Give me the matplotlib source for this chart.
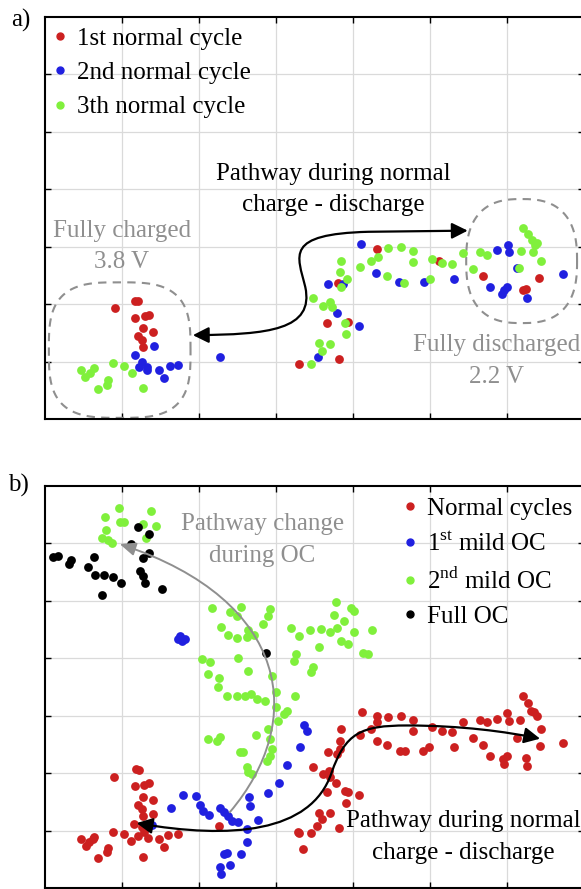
import numpy as np
import matplotlib.pyplot as plt
from matplotlib.path import Path
from matplotlib.patches import FancyArrowPatch
from matplotlib.lines import Line2D

plt.rcParams['font.family'] = ['Liberation Serif', 'DejaVu Serif']
plt.rcParams['mathtext.fontset'] = 'custom'
plt.rcParams['mathtext.rm'] = 'Liberation Serif'

# ---- panel a) three normal cycles ----
a_red_x = [0.91, 1.17, 1.21, 1.17, 1.30, 1.35, 1.27, 1.40, 1.21, 1.26, 1.27,
           3.30, 3.82, 3.66, 3.94, 3.81, 4.31, 5.12, 5.69, 6.25, 6.21, 6.42]
a_red_y = [1.93, 2.06, 2.06, 1.76, 1.79, 1.81, 1.59, 1.52, 1.45, 1.38, 1.25,
           0.96, 1.05, 1.67, 1.69, 2.37, 2.96, 2.75, 2.49, 2.26, 2.25, 2.46]

a_blue_x = [1.42, 1.17, 1.26, 1.22, 1.32, 1.32, 1.48, 1.62, 1.73, 1.55, 2.27,
            3.55, 3.79, 4.08, 3.68, 3.87, 4.10, 4.30, 4.60, 4.92, 5.31, 5.87,
            6.01, 6.03, 6.13, 5.78, 5.94, 6.00, 5.96, 6.26, 6.73]
a_blue_y = [1.27, 1.11, 0.99, 0.91, 0.91, 0.85, 0.85, 0.92, 0.94, 0.71, 1.08,
            1.08, 1.85, 1.62, 2.35, 2.35, 3.05, 2.54, 2.39, 2.39, 2.44, 2.94,
            3.03, 2.91, 2.63, 2.30, 2.18, 2.30, 2.25, 2.11, 2.53]

a_green_x = [0.47, 0.58, 0.64, 0.52, 0.88, 1.03, 1.13, 0.82, 0.81, 0.69, 1.27,
             3.45, 3.56, 3.60, 3.70, 3.91, 3.90, 3.48, 3.61, 3.70, 3.73, 3.84,
             3.92, 3.83, 3.84, 4.09, 4.23, 4.32, 4.45, 4.62, 4.78, 4.78, 4.44,
             4.66, 5.00, 5.03, 5.16, 5.29, 5.43, 5.56, 5.65, 5.74, 6.18, 6.21,
             6.27, 6.32, 6.36, 6.39, 6.34, 6.44, 6.16]
a_green_y = [0.85, 0.80, 0.89, 0.73, 0.98, 0.92, 0.80, 0.68, 0.59, 0.52, 0.54,
             0.96, 1.32, 1.18, 1.31, 1.48, 1.67, 2.11, 1.97, 2.04, 1.95, 2.30,
             2.44, 2.56, 2.75, 2.65, 2.75, 2.82, 2.98, 3.00, 2.93, 2.74, 2.49,
             2.37, 2.44, 2.79, 2.72, 2.70, 2.89, 2.61, 2.91, 2.86, 2.93, 3.33,
             3.22, 3.12, 3.03, 3.07, 2.91, 2.75, 2.63]

# ---- panel b) normal cycles and overcharge (OC) ----
b_normal_x = [1.18, 1.22, 0.90, 1.17, 1.29, 1.35, 1.27, 1.40, 1.21, 1.26, 1.27,
              1.40, 1.16, 1.26, 1.29, 1.34, 1.21, 0.88, 1.03, 1.12, 1.48, 1.60,
              1.73, 1.55, 0.47, 0.53, 0.62, 0.64, 0.57, 0.82, 0.81, 0.69, 1.27,
              2.26, 3.29, 4.12, 4.31, 4.31, 4.45, 4.62, 4.78, 4.78, 4.23, 3.84,
              3.83, 4.09, 4.31, 4.44, 4.61, 4.68, 4.91, 4.99, 5.03, 5.16, 5.29,
              5.43, 5.56, 5.31, 5.65, 5.74, 5.69, 5.78, 5.87, 6.00, 6.03, 6.17,
              6.13, 5.95, 5.96, 6.00, 6.25, 6.26, 6.21, 6.27, 6.31, 6.35, 6.39,
              6.44, 6.43, 6.73, 3.68, 3.79, 3.83, 3.48, 3.61, 3.69, 3.70, 3.78,
              3.66, 3.90, 3.94, 4.08, 3.91, 3.56, 3.60, 3.70, 3.53, 3.82, 3.30,
              3.45, 3.35]
b_normal_y = [2.07, 2.06, 1.93, 1.78, 1.79, 1.83, 1.59, 1.53, 1.45, 1.38, 1.25,
              1.29, 1.11, 1.06, 0.98, 0.87, 0.91, 0.98, 0.94, 0.82, 0.85, 0.92,
              0.94, 0.71, 0.85, 0.73, 0.85, 0.89, 0.80, 0.70, 0.63, 0.52, 0.54,
              1.08, 0.98, 3.07, 3.00, 2.89, 2.98, 3.00, 2.93, 2.74, 2.77, 2.77,
              2.56, 2.67, 2.56, 2.49, 2.39, 2.39, 2.39, 2.46, 2.80, 2.74, 2.72,
              2.89, 2.61, 2.46, 2.93, 2.89, 2.49, 2.30, 2.94, 3.05, 2.91, 2.93,
              2.61, 2.25, 2.16, 2.30, 2.26, 2.13, 3.34, 3.22, 3.08, 3.07, 3.00,
              2.77, 2.47, 2.53, 2.37, 2.33, 2.42, 2.11, 1.99, 2.04, 1.93, 1.83,
              1.67, 1.69, 1.67, 1.62, 1.48, 1.31, 1.20, 1.31, 1.08, 1.05, 0.96,
              0.96, 0.68]

b_oc1_x = [1.75, 1.82, 1.78, 1.73, 1.79, 1.96, 1.64, 2.01, 2.05, 2.13, 2.27,
           2.32, 2.38, 2.43, 2.51, 2.62, 2.62, 2.65, 2.66, 2.77, 2.90, 3.04,
           3.14, 3.31, 1.39, 2.32, 2.36, 2.55, 2.40, 2.27, 2.29, 3.36, 3.40]
b_oc1_y = [4.39, 4.34, 4.30, 4.34, 1.62, 1.60, 1.39, 1.45, 1.34, 1.27, 1.39,
           1.32, 1.25, 1.17, 1.15, 1.03, 0.80, 1.59, 1.43, 1.18, 1.66, 1.83,
           2.14, 2.46, 1.10, 0.59, 0.61, 0.59, 0.40, 0.37, 0.24, 2.84, 2.74]

b_oc2_x = [0.78, 0.96, 0.97, 1.03, 1.38, 1.27, 1.44, 0.79, 0.74, 0.82, 0.87,
           1.31, 2.17, 2.55, 2.40, 2.49, 2.92, 2.90, 2.83, 2.29, 2.38, 2.49,
           2.62, 2.64, 2.71, 2.04, 2.14, 2.51, 2.64, 2.95, 3.78, 3.97, 4.01,
           3.75, 3.88, 3.19, 3.30, 3.44, 3.58, 3.70, 3.79, 4.01, 4.25, 3.84,
           3.94, 3.56, 3.26, 3.23, 4.13, 4.19, 3.48, 3.45, 2.12, 2.26, 2.25,
           2.36, 2.49, 2.60, 2.68, 2.75, 2.86, 3.00, 3.25, 3.14, 3.10, 3.00,
           3.03, 2.12, 2.27, 2.23, 2.74, 2.90, 2.92, 2.95, 2.92, 2.53, 2.57,
           2.88, 2.62, 2.64, 2.69]
b_oc2_y = [6.46, 6.62, 6.38, 6.38, 6.57, 6.34, 6.31, 6.24, 6.10, 6.06, 6.01,
           6.10, 4.88, 4.90, 4.81, 4.74, 4.86, 4.74, 4.60, 4.55, 4.41, 4.36,
           4.37, 4.49, 4.41, 3.99, 3.94, 4.01, 3.78, 3.69, 4.98, 4.88, 4.83,
           4.76, 4.65, 4.53, 4.39, 4.49, 4.51, 4.46, 4.53, 4.46, 4.49, 4.30,
           4.25, 4.20, 4.08, 3.95, 4.09, 4.08, 3.85, 3.76, 3.73, 3.66, 3.50,
           3.34, 3.34, 3.34, 3.38, 3.29, 3.26, 3.41, 3.34, 3.08, 3.03, 3.15,
           2.91, 2.60, 2.63, 2.56, 2.67, 2.77, 2.60, 2.42, 2.30, 2.37, 2.37,
           2.21, 2.11, 2.02, 1.99]

b_full_x = [1.21, 1.35, 1.12, 1.35, 1.27, 0.10, 0.17, 0.34, 0.31, 0.64, 0.56,
            0.65, 0.77, 0.88, 0.99, 1.23, 1.27, 1.30, 0.74, 1.52, 2.87]
b_full_y = [6.29, 6.17, 5.99, 5.84, 5.75, 5.77, 5.78, 5.71, 5.64, 5.77, 5.59,
            5.45, 5.45, 5.42, 5.31, 5.52, 5.44, 5.31, 5.10, 5.21, 4.09]

a_labels = ['1st normal cycle', '2nd normal cycle', '3th normal cycle']
b_labels = ['Normal cycles', r'1$^{\mathrm{st}}$ mild OC',
            r'2$^{\mathrm{nd}}$ mild OC', 'Full OC']

red = '#cc2020'
blue = '#2020e0'
green = '#80f03c'
black = '#000000'
gray = '#8f8f8f'
FS = 18
DOT = 40
HEAD = '<|-|>,head_length=0.6,head_width=0.3'


def setup(ax):
    ax.set_xlim(0, 7)
    ax.set_ylim(0, 7)
    ax.set_xticks(range(1, 7))
    ax.set_yticks(range(1, 7))
    ax.tick_params(direction='in', length=4, width=1, top=True, right=True,
                   labelbottom=False, labelleft=False)
    ax.grid(True, color='#dadada', lw=0.9)
    ax.set_axisbelow(True)
    for s in ax.spines.values():
        s.set_linewidth(1.5)


def blob(ax, cx, cy, rx, ry, n):
    t = np.linspace(0, 2 * np.pi, 300)
    c, s = np.cos(t), np.sin(t)
    x = cx + rx * np.sign(c) * np.abs(c) ** (2 / n)
    y = cy + ry * np.sign(s) * np.abs(s) ** (2 / n)
    ax.plot(x, y, ls=(0, (4, 3)), color=gray, lw=1.5, zorder=1)


def curved_arrow(ax, verts, codes, style, color, lw=1.6):
    arr = FancyArrowPatch(path=Path(verts, codes), arrowstyle=style,
                          mutation_scale=16, color=color, lw=lw, zorder=5)
    ax.add_patch(arr)


def dots(colors):
    return [Line2D([], [], ls='', marker='o', color=c, markersize=5)
            for c in colors]


def add_legend(ax, colors, labels, x, y):
    ax.legend(dots(colors), labels, loc='upper left', bbox_to_anchor=(x, y),
              frameon=False, fontsize=FS, handlelength=0.4,
              handletextpad=0.48, labelspacing=0.47, borderpad=0.25,
              borderaxespad=0.0)


fig = plt.figure(figsize=(5.81, 8.89), dpi=100)
ax1 = fig.add_axes([45 / 581, 1 - 419 / 889, 539 / 581, 402 / 889])
ax2 = fig.add_axes([45 / 581, 1 / 889, 539 / 581, 402 / 889])

# ----- a) -----
setup(ax1)
ax1.scatter(a_red_x, a_red_y, s=DOT, color=red, lw=0, zorder=3)
ax1.scatter(a_blue_x, a_blue_y, s=DOT, color=blue, lw=0, zorder=3)
ax1.scatter(a_green_x, a_green_y, s=DOT, color=green, lw=0, zorder=3)
blob(ax1, 0.97, 1.20, 0.92, 1.18, 3.2)
blob(ax1, 6.19, 2.75, 0.72, 1.08, 2.6)

M, C, L = Path.MOVETO, Path.CURVE4, Path.LINETO
curved_arrow(ax1,
             [(1.92, 1.46), (2.9, 1.47), (3.5, 1.55), (3.38, 2.3),
              (3.28, 2.85), (3.1, 3.22), (4.2, 3.26), (5.49, 3.28)],
             [M, C, C, C, C, C, C, L], HEAD, black)

ax1.text(3.75, 4.0, 'Pathway during normal\ncharge - discharge', fontsize=FS,
         ha='center', va='center', linespacing=1.55)
ax1.text(1.0, 3.0, 'Fully charged\n3.8 V', fontsize=FS, color=gray,
         ha='center', va='center', linespacing=1.55)
ax1.text(5.86, 1.01, 'Fully discharged\n2.2 V', fontsize=FS, color=gray,
         ha='center', va='center', linespacing=1.55)
add_legend(ax1, [red, blue, green], a_labels, 0.0074, 0.99)

# ----- b) -----
setup(ax2)
ax2.scatter(b_normal_x, b_normal_y, s=DOT, color=red, lw=0, zorder=3)
ax2.scatter(b_oc1_x, b_oc1_y, s=DOT, color=blue, lw=0, zorder=3)
ax2.scatter(b_oc2_x, b_oc2_y, s=DOT, color=green, lw=0, zorder=3)
ax2.scatter(b_full_x, b_full_y, s=DOT, color=black, lw=0, zorder=3)

curved_arrow(ax2,
             [(2.40, 1.32), (3.4, 2.9), (3.2, 5.0), (0.97, 5.99)],
             [M, C, C, C], '-|>,head_length=0.6,head_width=0.25', gray, lw=1.4)
curved_arrow(ax2,
             [(1.19, 1.13), (2.4, 0.85), (3.45, 0.95), (3.72, 2.0),
              (3.9, 2.7), (4.1, 2.83), (4.7, 2.83),
              (5.4, 2.83), (6.0, 2.72), (6.43, 2.6)],
             [M, C, C, C, C, C, C, C, C, C], HEAD, black)

ax2.text(2.82, 6.06, 'Pathway change\nduring OC', fontsize=FS, color=gray,
         ha='center', va='center', linespacing=1.55)
ax2.text(5.43, 0.89, 'Pathway during normal\ncharge - discharge', fontsize=FS,
         ha='center', va='center', linespacing=1.55)
add_legend(ax2, [red, blue, green, black], b_labels, 0.657, 0.9875)

fig.text(21 / 581, 1 - 20 / 889, 'a)', fontsize=FS, ha='center', va='center')
fig.text(18 / 581, 1 - 485 / 889, 'b)', fontsize=FS, ha='center', va='center')

fig.savefig('out.png', dpi=100)
